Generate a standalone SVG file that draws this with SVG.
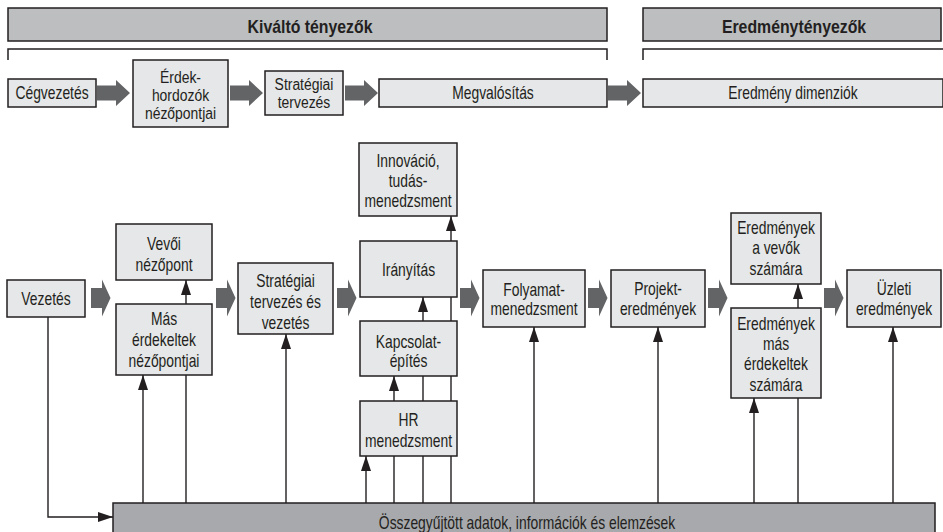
<svg xmlns="http://www.w3.org/2000/svg" xmlns:xlink="http://www.w3.org/1999/xlink" width="943" height="532" viewBox="0 0 943 532">
<style>
  text { font-family: "Liberation Sans", Arial, sans-serif; font-size: 18px; fill: #231f20; text-anchor: middle; }
  .hdr { font-weight: bold; font-size: 18px; }
  .sm { font-size: 16px; }
  .box { fill: #e6e7e8; stroke: #231f20; stroke-width: 1.5; }
  .hbar { fill: #bcbec0; stroke: #231f20; stroke-width: 1.5; }
  .base { fill: #a7a9ac; stroke: #231f20; stroke-width: 1.5; }
  .brk { fill: none; stroke: #231f20; stroke-width: 1.5; }
  .ga { fill: #636466; }
  .ln { fill: none; stroke: #231f20; stroke-width: 1.4; }
  .ar { marker-end: url(#ah); }
</style>
<defs>
  <marker id="ah" markerUnits="userSpaceOnUse" markerWidth="15" markerHeight="10" refX="15" refY="5" orient="auto" viewBox="0 0 15 10">
    <path d="M0,0 L15,5 L0,10 Z" fill="#231f20"/>
  </marker>
  <path id="gaTop" d="M0,-7.5 H19 V-13 L33,0 L19,13 V7.5 H0 Z"/>
  <path id="gaLow" d="M0,-10 H11 V-18.5 L19.5,0 L11,18.5 V10 H0 Z"/>
</defs>

<g id="header-kivalto">
  <rect class="hbar" x="8" y="8" width="599" height="33"/>
  <g transform="translate(310 0) scale(0.88 1)"><text class="hdr" x="0" y="33">Kiváltó tényezők</text></g>
  <path class="brk" d="M8,60 V49 H607 V60"/>
</g>
<g id="header-eredmeny">
  <rect class="hbar" x="643" y="8" width="298" height="33"/>
  <g transform="translate(794 0) scale(0.88 1)"><text class="hdr" x="0" y="33">Eredménytényezők</text></g>
  <path class="brk" d="M643,60 V49 H945"/>
</g>

<g id="flow-arrows" class="ga">
  <use xlink:href="#gaTop" x="97" y="93"/>
  <use xlink:href="#gaTop" x="230" y="93"/>
  <use xlink:href="#gaTop" x="345" y="93"/>
  <use xlink:href="#gaTop" x="608" y="93"/>
  <use xlink:href="#gaLow" x="91" y="298"/>
  <use xlink:href="#gaLow" x="216" y="298"/>
  <use xlink:href="#gaLow" x="337" y="298"/>
  <use xlink:href="#gaLow" x="460" y="298"/>
  <use xlink:href="#gaLow" x="588" y="298"/>
  <use xlink:href="#gaLow" x="708" y="298"/>
  <use xlink:href="#gaLow" x="824" y="298"/>
</g>

<g id="top-cegvezetes">
  <rect class="box" x="8" y="79" width="88" height="28"/>
  <g transform="translate(52 0) scale(0.77 1)"><text x="0" y="99.5">Cégvezetés</text></g>
</g>
<g id="top-erdekhordozok">
  <rect class="box" x="133" y="60" width="95" height="67"/>
  <g transform="translate(180.5 0) scale(0.87 1)">
    <text class="sm" x="0" y="83">Érdek-</text>
    <text class="sm" x="0" y="101">hordozók</text>
    <text class="sm" x="0" y="119">nézőpontjai</text>
  </g>
</g>
<g id="top-strategiai">
  <rect class="box" x="265" y="71" width="78" height="44"/>
  <g transform="translate(304 0) scale(0.87 1)">
    <text class="sm" x="0" y="90">Stratégiai</text>
    <text class="sm" x="0" y="108.5">tervezés</text>
  </g>
</g>
<g id="top-megvalositas">
  <rect class="box" x="379" y="79" width="228" height="28"/>
  <g transform="translate(493 0) scale(0.77 1)"><text x="0" y="99.5">Megvalósítás</text></g>
</g>
<g id="top-eredmenydim">
  <rect class="box" x="643" y="79" width="300" height="28"/>
  <g transform="translate(793 0) scale(0.77 1)"><text x="0" y="99.5">Eredmény dimenziók</text></g>
</g>

<g id="connectors">
  <path class="ln ar" d="M48,317 V517 H113"/>
  <path class="ln ar" d="M143,503 V375"/>
  <path class="ln" d="M186,503 V375"/>
  <path class="ln ar" d="M186,304 V280"/>
  <path class="ln ar" d="M286,503 V334"/>
  <path class="ln ar" d="M366,503 V456"/>
  <path class="ln ar" d="M394,503 V376"/>
  <path class="ln ar" d="M423,503 V297"/>
  <path class="ln ar" d="M451,503 V216"/>
  <path class="ln ar" d="M534,503 V327"/>
  <path class="ln ar" d="M658,503 V327"/>
  <path class="ln ar" d="M754,503 V398"/>
  <path class="ln" d="M798,503 V398"/>
  <path class="ln ar" d="M798,308 V284"/>
  <path class="ln ar" d="M893,503 V327"/>
</g>

<g id="vezetes">
  <rect class="box" x="7" y="280" width="78" height="37"/>
  <g transform="translate(46 0) scale(0.77 1)"><text x="0" y="305">Vezetés</text></g>
</g>
<g id="vevoi-nezopont">
  <rect class="box" x="116" y="224" width="96" height="56"/>
  <g transform="translate(164 0) scale(0.77 1)">
    <text x="0" y="250.5">Vevői</text>
    <text x="0" y="271">nézőpont</text>
  </g>
</g>
<g id="mas-erdekeltek">
  <rect class="box" x="116" y="304" width="96" height="71"/>
  <g transform="translate(164 0) scale(0.77 1)">
    <text x="0" y="325">Más</text>
    <text x="0" y="346">érdekeltek</text>
    <text x="0" y="367">nézőpontjai</text>
  </g>
</g>
<g id="strategiai-tervezes">
  <rect class="box" x="238" y="263" width="95" height="71"/>
  <g transform="translate(285.5 0) scale(0.77 1)">
    <text x="0" y="287">Stratégiai</text>
    <text x="0" y="308">tervezés és</text>
    <text x="0" y="329">vezetés</text>
  </g>
</g>
<g id="innovacio">
  <rect class="box" x="359" y="143" width="98" height="73"/>
  <g transform="translate(408 0) scale(0.77 1)">
    <text x="0" y="167">Innováció,</text>
    <text x="0" y="187">tudás-</text>
    <text x="0" y="207">menedzsment</text>
  </g>
</g>
<g id="iranyitas">
  <rect class="box" x="360" y="241" width="97" height="56"/>
  <g transform="translate(408.5 0) scale(0.77 1)"><text x="0" y="276">Irányítás</text></g>
</g>
<g id="kapcsolatepites">
  <rect class="box" x="360" y="321" width="97" height="55"/>
  <g transform="translate(408.5 0) scale(0.77 1)">
    <text x="0" y="348">Kapcsolat-</text>
    <text x="0" y="367">építés</text>
  </g>
</g>
<g id="hr-menedzsment">
  <rect class="box" x="360" y="401" width="97" height="55"/>
  <g transform="translate(408.5 0) scale(0.77 1)">
    <text x="0" y="426">HR</text>
    <text x="0" y="447">menedzsment</text>
  </g>
</g>
<g id="folyamatmenedzsment">
  <rect class="box" x="483" y="270" width="102" height="57"/>
  <g transform="translate(534 0) scale(0.77 1)">
    <text x="0" y="296">Folyamat-</text>
    <text x="0" y="315">menedzsment</text>
  </g>
</g>
<g id="projekteredmenyek">
  <rect class="box" x="611" y="270" width="94" height="57"/>
  <g transform="translate(658 0) scale(0.77 1)">
    <text x="0" y="295">Projekt-</text>
    <text x="0" y="315">eredmények</text>
  </g>
</g>
<g id="eredmenyek-vevok">
  <rect class="box" x="731" y="213" width="90" height="71"/>
  <g transform="translate(776 0) scale(0.77 1)">
    <text x="0" y="234">Eredmények</text>
    <text x="0" y="254">a vevők</text>
    <text x="0" y="275">számára</text>
  </g>
</g>
<g id="eredmenyek-mas">
  <rect class="box" x="731" y="308" width="90" height="90"/>
  <g transform="translate(776 0) scale(0.77 1)">
    <text x="0" y="330">Eredmények</text>
    <text x="0" y="350">más</text>
    <text x="0" y="370">érdekeltek</text>
    <text x="0" y="391">számára</text>
  </g>
</g>
<g id="uzleti-eredmenyek">
  <rect class="box" x="847" y="270" width="94" height="57"/>
  <g transform="translate(894 0) scale(0.77 1)">
    <text x="0" y="295">Üzleti</text>
    <text x="0" y="315">eredmények</text>
  </g>
</g>
<g id="osszegyujtott">
  <rect class="base" x="113" y="503" width="822" height="40"/>
  <g transform="translate(527 0) scale(0.77 1)"><text x="0" y="529">Összegyűjtött adatok, információk és elemzések</text></g>
</g>
</svg>
